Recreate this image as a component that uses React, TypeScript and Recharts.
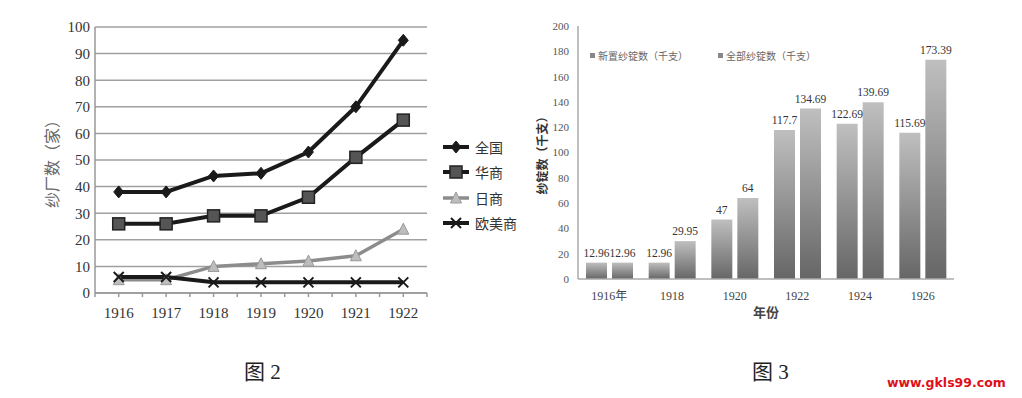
import { Bar, BarChart, CartesianGrid, LabelList, Line, LineChart, XAxis, YAxis } from 'recharts';

// 图2: 纱厂数
const years = ['1916', '1917', '1918', '1919', '1920', '1921', '1922'];
const quanguo = [38, 38, 44, 45, 53, 70, 95];
const huashang = [26, 26, 29, 29, 36, 51, 65];
const rishang = [5, 5, 10, 11, 12, 14, 24];
const oumeishang = [6, 6, 4, 4, 4, 4, 4];
const millTicks = [0, 10, 20, 30, 40, 50, 60, 70, 80, 90, 100];

// 图3: 纱锭数
const spindleYears = ['1916年', '1918', '1920', '1922', '1924', '1926'];
const newSpindles = [12.96, 12.96, 47, 117.7, 122.69, 115.69];
const allSpindles = [12.96, 29.95, 64, 134.69, 139.69, 173.39];
const spindleTicks = [0, 20, 40, 60, 80, 100, 120, 140, 160, 180, 200];

const serif = "'Liberation Serif', 'Noto Sans CJK SC', serif";

const millData = years.map((y, i) => ({
	idx: i,
	year: y,
	quanguo: quanguo[i],
	huashang: huashang[i],
	rishang: rishang[i],
	oumeishang: oumeishang[i],
}));

const spindleData = spindleYears.map((y, i) => ({
	year: y,
	newS: newSpindles[i],
	allS: allSpindles[i],
}));

// half-step ticks so there are marks at the centres and between categories
const halfTicks: number[] = [];
for (let t = -0.5; t <= years.length - 0.5; t += 0.5) halfTicks.push(t);

const diamond = (cx: number, cy: number) => (
	<path
		d={`M${cx},${cy - 6}L${cx + 5},${cy}L${cx},${cy + 6}L${cx - 5},${cy}Z`}
		fill="#1a1a1a"
		stroke="#1a1a1a"
		strokeWidth={1}
	/>
);
const square = (cx: number, cy: number) => (
	<rect x={cx - 6} y={cy - 6} width={12} height={12} fill="#555" stroke="#222" strokeWidth={1.5} />
);
const triangle = (cx: number, cy: number) => (
	<path
		d={`M${cx},${cy - 6}L${cx + 5.5},${cy + 5}L${cx - 5.5},${cy + 5}Z`}
		fill="#bdbdbd"
		stroke="#999"
		strokeWidth={1}
	/>
);
const cross = (cx: number, cy: number) => (
	<path
		d={`M${cx - 5},${cy - 5}L${cx + 5},${cy + 5}M${cx + 5},${cy - 5}L${cx - 5},${cy + 5}`}
		stroke="#1a1a1a"
		strokeWidth={2}
	/>
);

const makeDot = (draw: (cx: number, cy: number) => JSX.Element) => (props: any) => {
	const { cx, cy, index } = props;
	if (cx == null || cy == null) return <g key={`e${index}`} />;
	return <g key={`d${index}`}>{draw(cx, cy)}</g>;
};

const millSeries = [
	{ key: 'quanguo', name: '全国', color: '#1a1a1a', width: 4, marker: diamond },
	{ key: 'huashang', name: '华商', color: '#1a1a1a', width: 4, marker: square },
	{ key: 'rishang', name: '日商', color: '#8c8c8c', width: 3.5, marker: triangle },
	{ key: 'oumeishang', name: '欧美商', color: '#1a1a1a', width: 4, marker: cross },
];

const MillLegend = () => (
	<div style={{ position: 'absolute', left: 441, top: 134, width: 90, whiteSpace: 'nowrap' }}>
		{millSeries.map((s) => (
			<div key={s.key} style={{ display: 'flex', alignItems: 'center', height: 25.5 }}>
				<svg width={30} height={16} style={{ flex: 'none' }}>
					<line x1={2} y1={8} x2={28} y2={8} stroke={s.color} strokeWidth={s.width} />
					{s.marker(15, 8)}
				</svg>
				<span style={{ fontFamily: serif, fontSize: 14, color: '#333', marginLeft: 4 }}>{s.name}</span>
			</div>
		))}
	</div>
);

const MillChart = () => (
	<div style={{ position: 'absolute', left: 0, top: 0, width: 540, height: 330 }}>
		<LineChart width={440} height={330} data={millData} margin={{ top: 27, right: 13, bottom: 7, left: 0 }}>
			<CartesianGrid vertical={false} stroke="#a0a0a0" strokeWidth={1.5} />
			<XAxis
				dataKey="idx"
				type="number"
				domain={[-0.5, years.length - 0.5]}
				ticks={halfTicks}
				interval={0}
				tickFormatter={(v: number) => (Number.isInteger(v) ? years[v] : '')}
				height={30}
				stroke="#999"
				strokeWidth={1.5}
				tickSize={4}
				tickMargin={10}
				tick={{ fontFamily: serif, fontSize: 15, fill: '#333' }}
			/>
			<YAxis
				domain={[0, 100]}
				ticks={millTicks}
				width={95}
				stroke="#999"
				strokeWidth={1.5}
				tickLine={false}
				tickSize={0}
				tickMargin={5}
				tick={{ fontFamily: serif, fontSize: 15, fill: '#333' }}
				label={{
					value: '纱厂数（家）',
					angle: -90,
					position: 'insideLeft',
					offset: 52,
					style: { fontFamily: serif, fontSize: 16, fill: '#666', textAnchor: 'middle' },
				}}
			/>
			{millSeries.map((s) => (
				<Line
					key={s.key}
					type="linear"
					dataKey={s.key}
					name={s.name}
					stroke={s.color}
					strokeWidth={s.width}
					dot={makeDot(s.marker)}
					activeDot={false}
					isAnimationActive={false}
				/>
			))}
		</LineChart>
		<MillLegend />
	</div>
);

const SpindleLegend = () => (
	<div
		style={{
			position: 'absolute',
			left: 590,
			top: 48,
			display: 'flex',
			whiteSpace: 'nowrap',
			fontFamily: serif,
			fontSize: 10,
			color: '#666',
		}}
	>
		{['新置纱锭数（千支）', '全部纱锭数（千支）'].map((t, i) => (
			<div key={t} style={{ display: 'flex', alignItems: 'center', marginRight: i === 0 ? 30 : 0 }}>
				<span style={{ width: 5, height: 5, background: '#888', marginRight: 3, display: 'inline-block' }} />
				{t}
			</div>
		))}
	</div>
);

const SpindleChart = () => (
	<div style={{ position: 'absolute', left: 520, top: 0 }}>
		<BarChart
			width={450}
			height={330}
			data={spindleData}
			margin={{ top: 26, right: 16, bottom: 11, left: 0 }}
			barSize={21}
			barGap={5}
		>
			<defs>
				<linearGradient id="barGrad" x1="0" y1="0" x2="0" y2="1">
					<stop offset="0%" stopColor="#bfbfbf" />
					<stop offset="100%" stopColor="#666" />
				</linearGradient>
			</defs>
			<XAxis
				dataKey="year"
				height={40}
				stroke="#aaa"
				strokeWidth={1.5}
				tickLine={false}
				tickSize={0}
				tickMargin={12}
				tick={{ fontFamily: serif, fontSize: 12, fill: '#444' }}
				label={{
					value: '年份',
					position: 'insideBottom',
					offset: 2,
					style: { fontFamily: serif, fontSize: 13, fill: '#444', fontWeight: 'bold' },
				}}
			/>
			<YAxis
				domain={[0, 200]}
				ticks={spindleTicks}
				width={58}
				stroke="#aaa"
				strokeWidth={1.5}
				tickLine={false}
				tickSize={0}
				tickMargin={9}
				tick={{ fontFamily: serif, fontSize: 11, fill: '#555' }}
				label={{
					value: '纱锭数（千支）',
					angle: -90,
					position: 'insideLeft',
					offset: 23,
					style: { fontFamily: serif, fontSize: 12, fill: '#333', fontWeight: 'bold', textAnchor: 'middle' },
				}}
			/>
			<Bar dataKey="newS" name="新置纱锭数（千支）" fill="url(#barGrad)" isAnimationActive={false}>
				<LabelList dataKey="newS" position="top" offset={6} style={{ fontFamily: serif, fontSize: 11.5, fill: '#333' }} />
			</Bar>
			<Bar dataKey="allS" name="全部纱锭数（千支）" fill="url(#barGrad)" isAnimationActive={false}>
				<LabelList dataKey="allS" position="top" offset={6} style={{ fontFamily: serif, fontSize: 11.5, fill: '#333' }} />
			</Bar>
		</BarChart>
	</div>
);

export default function App() {
	return (
		<div
			style={{
				position: 'absolute',
				left: 0,
				top: 0,
				width: 1022,
				height: 398,
				background: '#fff',
				overflow: 'hidden',
			}}
		>
			<MillChart />
			<SpindleChart />
			<SpindleLegend />
			<div style={{ position: 'absolute', left: 244, top: 355, fontFamily: serif, fontSize: 21, color: '#222', whiteSpace: 'nowrap' }}>
				图 2
			</div>
			<div style={{ position: 'absolute', left: 752, top: 355, fontFamily: serif, fontSize: 21, color: '#222', whiteSpace: 'nowrap' }}>
				图 3
			</div>
			<div
				style={{
					position: 'absolute',
					left: 887,
					top: 375,
					fontFamily: "'DejaVu Sans', sans-serif",
					fontSize: 12.5,
					fontWeight: 'bold',
					color: '#e0101a',
					whiteSpace: 'nowrap',
				}}
			>
				www.gkls99.com
			</div>
		</div>
	);
}
